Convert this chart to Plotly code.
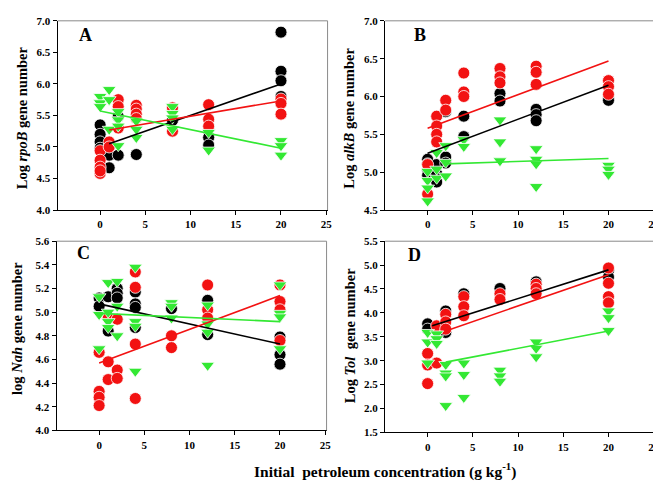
import plotly.graph_objects as go

# ---------------- data ----------------
# Panel A: Log rpoB
A_black_x = [0, 0, 0, 0, 1, 1, 1, 2, 2, 4, 8, 12, 12, 20, 20, 20, 20]
A_black_y = [5.35, 5.20, 5.08, 4.98, 5.00, 4.87, 4.67, 5.48, 4.87, 4.88, 5.42, 5.15, 5.03, 6.82, 6.20, 6.05, 5.80]
A_red_x = [0, 0, 0, 0, 0, 1, 1, 2, 2, 2, 4, 4, 4, 4, 8, 8, 12, 12, 12, 20, 20, 20]
A_red_y = [4.94, 4.79, 4.68, 4.58, 4.62, 5.08, 5.00, 5.75, 5.64, 5.30, 5.66, 5.60, 5.52, 5.45, 5.62, 5.25, 5.67, 5.44, 5.33, 5.76, 5.69, 5.52]
A_green_x = [0, 0, 0, 1, 1, 1, 2, 2, 2, 2, 4, 4, 4, 8, 8, 8, 8, 12, 12, 20, 20, 20]
A_green_y = [5.80, 5.70, 5.64, 5.91, 5.75, 5.28, 5.56, 5.43, 5.33, 5.02, 5.41, 5.28, 5.15, 5.64, 5.53, 5.46, 5.28, 5.23, 4.95, 5.10, 5.02, 4.87]
A_fit_black = ([1, 20], [5.05, 6.00])
A_fit_red = ([1, 20], [5.27, 5.73])
A_fit_green = ([0, 20], [5.57, 4.98])

# Panel B: Log alkB
B_black_x = [0, 0, 0, 0, 1, 1, 1, 2, 2, 2, 4, 4, 8, 8, 12, 12, 12, 20, 20]
B_black_y = [5.17, 5.11, 5.03, 4.96, 5.10, 4.98, 4.87, 5.80, 5.20, 5.12, 5.74, 5.47, 6.04, 5.94, 5.83, 5.76, 5.68, 5.97, 5.95]
B_red_x = [0, 0, 1, 1, 1, 1, 2, 2, 4, 4, 4, 8, 8, 8, 12, 12, 12, 20, 20, 20]
B_red_y = [5.10, 4.71, 5.74, 5.61, 5.50, 5.40, 5.95, 5.82, 6.31, 6.06, 6.00, 6.37, 6.26, 6.18, 6.40, 6.32, 6.16, 6.21, 6.13, 6.03]
B_green_x = [0, 0, 0, 0, 1, 1, 1, 2, 2, 2, 4, 4, 8, 8, 8, 12, 12, 12, 12, 20, 20, 20]
B_green_y = [5.01, 4.89, 4.79, 4.62, 5.26, 5.04, 4.92, 5.35, 5.13, 4.95, 5.43, 5.34, 5.69, 5.40, 5.15, 5.31, 5.17, 5.11, 4.81, 5.09, 5.04, 4.97]
B_fit_black = ([0, 20], [5.25, 6.15])
B_fit_red = ([0, 20], [5.58, 6.47])
B_fit_green = ([2, 20], [5.11, 5.18])

# Panel C: log Nah
C_black_x = [0, 0, 1, 1, 2, 2, 2, 4, 4, 4, 4, 8, 12, 12, 20, 20, 20]
C_black_y = [5.12, 5.05, 5.13, 4.84, 5.20, 5.16, 5.12, 5.17, 5.07, 5.04, 4.87, 5.03, 5.10, 4.81, 4.79, 4.64, 4.56]
C_red_x = [0, 0, 0, 0, 1, 1, 1, 2, 2, 2, 4, 4, 4, 4, 8, 8, 12, 12, 12, 20, 20, 20, 20]
C_red_y = [4.66, 4.33, 4.28, 4.21, 4.95, 4.58, 4.43, 4.94, 4.51, 4.44, 5.34, 5.21, 4.73, 4.27, 4.80, 4.70, 5.23, 5.02, 4.95, 5.23, 5.09, 5.02, 4.76]
C_green_x = [0, 0, 0, 1, 1, 1, 1, 2, 2, 2, 4, 4, 4, 4, 8, 8, 8, 12, 12, 12, 12, 20, 20, 20, 20]
C_green_y = [5.13, 4.98, 4.69, 5.25, 5.00, 4.92, 4.87, 5.26, 5.05, 4.80, 5.38, 4.92, 4.88, 4.50, 5.08, 5.05, 4.95, 5.06, 4.90, 4.83, 4.55, 5.23, 4.99, 4.96, 4.69]
C_fit_black = ([0, 20], [5.07, 4.73])
C_fit_red = ([0, 20], [4.57, 5.14])
C_fit_green = ([0, 20], [4.99, 4.92])

# Panel D: Log Tol
D_black_x = [0, 0, 2, 2, 4, 8, 12, 20, 20]
D_black_y = [3.77, 3.66, 4.04, 3.59, 4.40, 4.51, 4.65, 4.89, 4.75]
D_red_x = [0, 0, 0, 1, 1, 2, 2, 2, 4, 4, 4, 8, 8, 12, 12, 12, 20, 20, 20, 20]
D_red_y = [3.15, 2.91, 2.52, 3.73, 2.95, 3.97, 3.81, 3.66, 4.34, 4.13, 3.94, 4.40, 4.28, 4.60, 4.51, 4.40, 4.94, 4.62, 4.34, 4.21]
D_green_x = [0, 0, 0, 1, 1, 1, 2, 2, 2, 2, 4, 4, 4, 8, 8, 8, 12, 12, 12, 20, 20, 20]
D_green_y = [3.59, 3.39, 2.95, 3.56, 3.46, 3.36, 2.92, 2.74, 2.68, 2.06, 2.95, 2.71, 2.23, 2.80, 2.68, 2.57, 3.39, 3.26, 3.08, 4.04, 3.90, 3.63]
D_fit_black = ([0.5, 20], [3.73, 4.90])
D_fit_red = ([2, 20], [3.62, 4.80])
D_fit_green = ([2, 20], [2.97, 3.62])

x_ticks = [0, 5, 10, 15, 20, 25]
panel_letters = ["A", "B", "C", "D"]
y_titles = ["Log <i>rpoB</i> gene number", "Log <i>alkB</i> gene number",
            "log <i>Nah</i> gene number", "Log <i>Tol</i>  gene number"]
y_ranges = [(4.0, 7.0, 0.5), (4.5, 7.0, 0.5), (4.0, 5.6, 0.2), (1.5, 5.5, 0.5)]
x_title = "Initial  petroleum concentration (g kg<sup>-1</sup>)"

# ---------------- styling ----------------
W, H = 661, 483
BLACK, RED, GREEN = "#000000", "#f21212", "#33e833"
FONT = "Liberation Serif"

# panel boxes in pixels: (left, right, top, bottom)
boxes = [(50, 322, 7, 201), (380, 652, 7, 201), (49, 321, 233, 427), (380, 652, 233, 429)]

panels = [
    (A_black_x, A_black_y, A_red_x, A_red_y, A_green_x, A_green_y, A_fit_black, A_fit_red, A_fit_green),
    (B_black_x, B_black_y, B_red_x, B_red_y, B_green_x, B_green_y, B_fit_black, B_fit_red, B_fit_green),
    (C_black_x, C_black_y, C_red_x, C_red_y, C_green_x, C_green_y, C_fit_black, C_fit_red, C_fit_green),
    (D_black_x, D_black_y, D_red_x, D_red_y, D_green_x, D_green_y, D_fit_black, D_fit_red, D_fit_green),
]

fig = go.Figure()
layout = {}
annotations = []
shapes = []
title_pos = [(14, 106), (344, 107), (9, 322), (344, 330)]
letter_pos = [(78, 22), (415, 22), (76, 245), (410, 247)]

for i, p in enumerate(panels):
    sfx = "" if i == 0 else str(i + 1)
    xa, ya = "x" + sfx, "y" + sfx
    bx, by, rx, ry, gx, gy, fb, fr, fg = p
    mk_line = dict(color="white", width=0.8)
    fig.add_trace(go.Scatter(x=bx, y=by, mode="markers", xaxis=xa, yaxis=ya,
                             marker=dict(symbol="circle", size=12, color=BLACK, line=mk_line)))
    fig.add_trace(go.Scatter(x=rx, y=ry, mode="markers", xaxis=xa, yaxis=ya,
                             marker=dict(symbol="circle", size=12, color=RED, line=mk_line)))
    fig.add_trace(go.Scatter(x=gx, y=gy, mode="markers", xaxis=xa, yaxis=ya,
                             marker=dict(symbol="triangle-down", size=12, color=GREEN, line=mk_line)))
    for fit, col in ((fb, BLACK), (fr, RED), (fg, GREEN)):
        fig.add_trace(go.Scatter(x=fit[0], y=fit[1], mode="lines", xaxis=xa, yaxis=ya,
                                 line=dict(color=col, width=1.6)))
    l, r, t, b = boxes[i]
    y0, y1, dy = y_ranges[i]
    layout["xaxis" + sfx] = dict(
        domain=[l / W, r / W], anchor=ya, range=[-4.7, 25.15],
        tickvals=x_ticks, ticks="outside", ticklen=4, tickwidth=1, tickcolor="black",
        showline=True, linecolor="black", linewidth=1.2, showgrid=False, zeroline=False,
        tickfont=dict(family=FONT, size=11, color="black", weight="bold"))
    layout["yaxis" + sfx] = dict(
        domain=[1 - b / H, 1 - t / H], anchor=xa, range=[y0, y1], dtick=dy, tick0=y0,
        tickformat=".1f", ticks="outside", ticklen=4, tickwidth=1, tickcolor="black",
        showline=True, linecolor="black", linewidth=1.2, showgrid=False, zeroline=False,
        tickfont=dict(family=FONT, size=11, color="black", weight="bold"))
    # top and right frame lines
    shapes.append(dict(type="line", xref=xa + " domain", yref=ya + " domain",
                       x0=0, x1=1, y0=1, y1=1, line=dict(color="#8a8a8a", width=1)))
    shapes.append(dict(type="line", xref=xa + " domain", yref=ya + " domain",
                       x0=1, x1=1, y0=0, y1=1, line=dict(color="#8a8a8a", width=1)))
    tx, ty = title_pos[i]
    annotations.append(dict(text=y_titles[i], xref="paper", yref="paper", x=tx / W, y=1 - ty / H,
                            xanchor="center", yanchor="middle", textangle=-90, showarrow=False,
                            font=dict(family=FONT, size=14.5, color="black", weight="bold")))
    lx, ly = letter_pos[i]
    annotations.append(dict(text=panel_letters[i], xref="paper", yref="paper", x=lx / W, y=1 - ly / H,
                            xanchor="center", yanchor="middle", showarrow=False,
                            font=dict(family=FONT, size=18, color="black", weight="bold")))

annotations.append(dict(text=x_title, xref="paper", yref="paper", x=380 / W, y=1 - 468 / H,
                        xanchor="center", yanchor="middle", showarrow=False,
                        font=dict(family=FONT, size=15.5, color="black", weight="bold")))

fig.update_layout(width=W, height=H, margin=dict(l=0, r=0, t=0, b=0), showlegend=False,
                  plot_bgcolor="white", paper_bgcolor="white",
                  annotations=annotations, shapes=shapes, **layout)
fig.write_html("out.html")
